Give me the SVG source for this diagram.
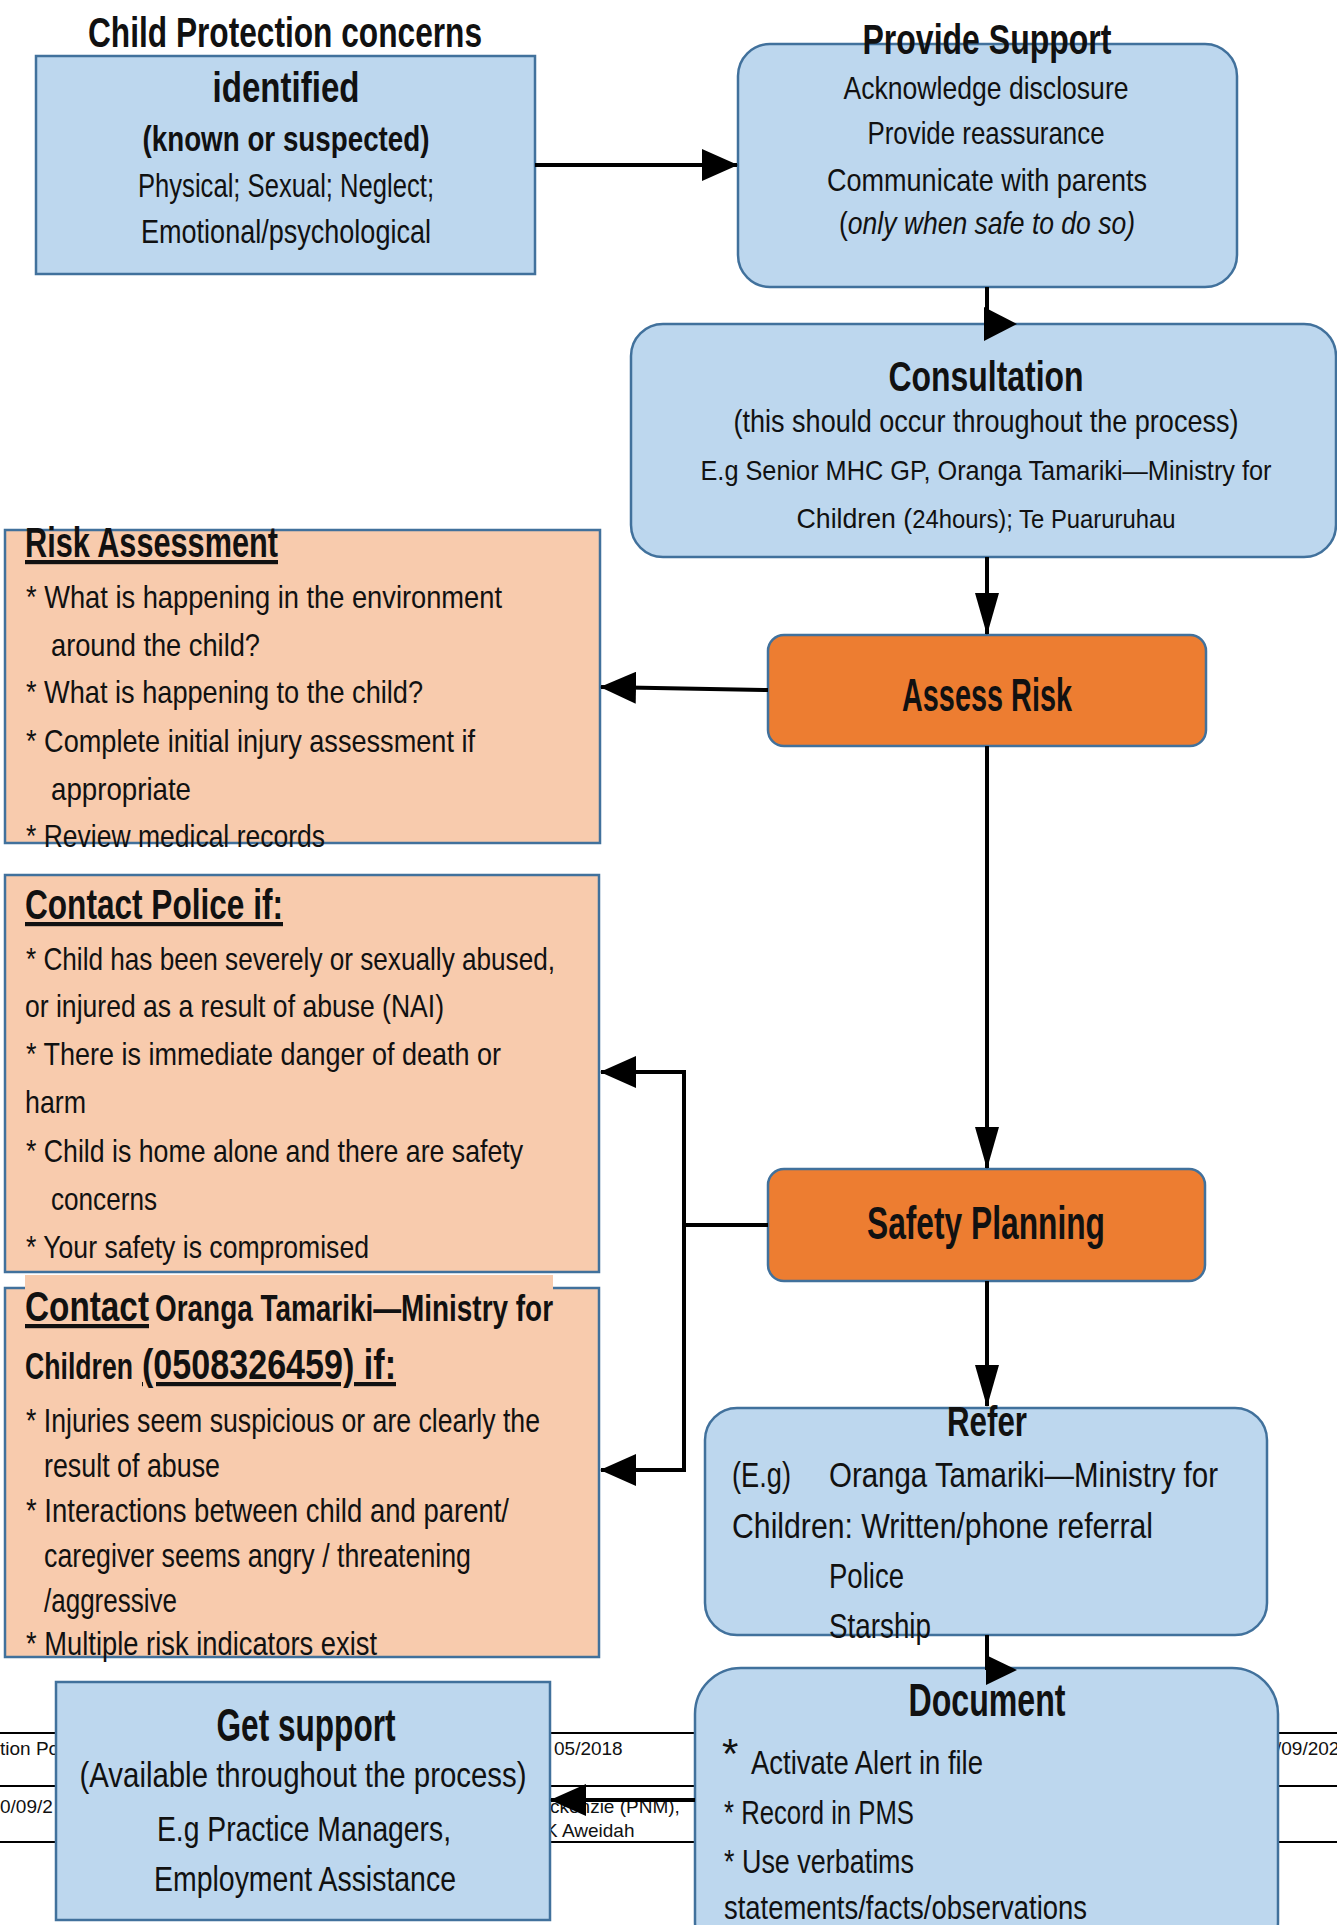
<svg xmlns="http://www.w3.org/2000/svg" width="1337" height="1925" viewBox="0 0 1337 1925">
<style>
.blue{fill:#BDD7EE;stroke:#41719C;stroke-width:2.5}
.peach{fill:#F8CBAD;stroke:#41719C;stroke-width:2.5}
.orange{fill:#ED7D31;stroke:#41719C;stroke-width:2.5}
text{font-family:"Liberation Sans",Arial,sans-serif;fill:#111;font-size:32px}
.b{font-weight:bold}
.c{text-anchor:middle}
.u{text-decoration:underline}
text.h{font-size:42px}
text.k{font-size:46px}
text.m{font-size:36px}
text.s{font-size:28px}
text.f{font-size:19px}
text.g{font-size:35px}
text.d{font-size:34px}
text.o{font-size:33px}
.con{stroke:#000;stroke-width:4;fill:none}
.foot{stroke:#000;stroke-width:2}
</style>
<defs>
<marker id="ah" markerUnits="userSpaceOnUse" markerWidth="36" markerHeight="32" refX="35" refY="16" orient="auto"><path d="M0,0 L36,16 L0,32 z" fill="#000"/></marker>
<marker id="av" markerUnits="userSpaceOnUse" markerWidth="42" markerHeight="24" refX="41" refY="12" orient="auto"><path d="M0,0 L42,12 L0,24 z" fill="#000"/></marker>
</defs>
<rect width="1337" height="1925" fill="#fff"/>
<g id="footer">
<line class="foot" x1="0" y1="1733" x2="1337" y2="1733"/>
<line class="foot" x1="0" y1="1786" x2="1337" y2="1786" stroke-width="3"/>
<line class="foot" x1="0" y1="1842" x2="1337" y2="1842"/>
<text class="f" x="0" y="1755">tion Po</text>
<text class="f" x="554" y="1755">05/2018</text>
<text class="f" x="0" y="1813">0/09/2</text>
<text class="f" x="550" y="1813">ckenzie (PNM),</text>
<text class="f" x="545" y="1837">K Aweidah</text>
<text class="f" x="1276" y="1755">/09/202</text>
</g>
<g id="n-identified">
<rect class="blue" x="36" y="56" width="499" height="218"/>
<text class="b h c" x="285" y="47" textLength="394" lengthAdjust="spacingAndGlyphs">Child Protection concerns</text>
<text class="b h c" x="286" y="102" textLength="147" lengthAdjust="spacingAndGlyphs">identified</text>
<text class="b g c" x="286" y="151" textLength="287" lengthAdjust="spacingAndGlyphs">(known or suspected)</text>
<text class="o c" x="286" y="197" textLength="296" lengthAdjust="spacingAndGlyphs">Physical; Sexual; Neglect;</text>
<text class="o c" x="286" y="243" textLength="290" lengthAdjust="spacingAndGlyphs">Emotional/psychological</text>
</g>
<g id="n-support">
<rect class="blue" x="738" y="44" width="499" height="243" rx="32"/>
<text class="b h c" x="987" y="54" textLength="249" lengthAdjust="spacingAndGlyphs">Provide Support</text>
<text class="c" x="986" y="99" textLength="285" lengthAdjust="spacingAndGlyphs">Acknowledge disclosure</text>
<text class="c" x="986" y="144" textLength="237" lengthAdjust="spacingAndGlyphs">Provide reassurance</text>
<text class="c" x="987" y="191" textLength="320" lengthAdjust="spacingAndGlyphs">Communicate with parents</text>
<text class="c" x="987" y="234" textLength="296" lengthAdjust="spacingAndGlyphs">(<tspan font-style="italic">only when safe to do so)</tspan></text>
</g>
<g id="n-consultation">
<rect class="blue" x="631" y="324" width="705" height="233" rx="32"/>
<text class="b h c" x="986" y="391" textLength="195" lengthAdjust="spacingAndGlyphs">Consultation</text>
<text class="c" x="986" y="432" textLength="505" lengthAdjust="spacingAndGlyphs">(this should occur throughout the process)</text>
<text class="s c" x="986" y="480" textLength="571" lengthAdjust="spacingAndGlyphs">E.g Senior MHC GP, Oranga Tamariki—Ministry for</text>
<text class="s c" x="986" y="528" textLength="379" lengthAdjust="spacingAndGlyphs">Children (<tspan style="font-size:25px">24hours); Te Puaruruhau</tspan></text>
</g>
<g id="n-assess">
<rect class="orange" x="768" y="635" width="438" height="111" rx="16"/>
<text class="b k c" x="987" y="711" textLength="170" lengthAdjust="spacingAndGlyphs">Assess Risk</text>
</g>
<g id="n-safety">
<rect class="orange" x="768" y="1169" width="437" height="112" rx="16"/>
<text class="b k c" x="986" y="1239" textLength="238" lengthAdjust="spacingAndGlyphs">Safety Planning</text>
</g>
<g id="n-risk">
<rect class="peach" x="5" y="530" width="595" height="313"/>
<text class="b h u" x="25" y="557" textLength="253" lengthAdjust="spacingAndGlyphs">Risk Assessment</text>
<text x="26" y="608" textLength="476" lengthAdjust="spacingAndGlyphs">* What is happening in the environment</text>
<text x="51" y="656" textLength="209" lengthAdjust="spacingAndGlyphs">around the child?</text>
<text x="26" y="703" textLength="397" lengthAdjust="spacingAndGlyphs">* What is happening to the child?</text>
<text x="26" y="752" textLength="449" lengthAdjust="spacingAndGlyphs">* Complete initial injury assessment if</text>
<text x="51" y="800" textLength="140" lengthAdjust="spacingAndGlyphs">appropriate</text>
<text x="26" y="847" textLength="299" lengthAdjust="spacingAndGlyphs">* Review medical records</text>
</g>
<g id="n-police">
<rect class="peach" x="5" y="875" width="594" height="397"/>
<text class="b h u" x="25" y="919" textLength="258" lengthAdjust="spacingAndGlyphs">Contact Police if:</text>
<text x="26" y="970" textLength="529" lengthAdjust="spacingAndGlyphs">* Child has been severely or sexually abused,</text>
<text x="25" y="1017" textLength="419" lengthAdjust="spacingAndGlyphs">or injured as a result of abuse (NAI)</text>
<text x="26" y="1065" textLength="475" lengthAdjust="spacingAndGlyphs">* There is immediate danger of death or</text>
<text x="25" y="1113" textLength="61" lengthAdjust="spacingAndGlyphs">harm</text>
<text x="26" y="1162" textLength="497" lengthAdjust="spacingAndGlyphs">* Child is home alone and there are safety</text>
<text x="51" y="1210" textLength="106" lengthAdjust="spacingAndGlyphs">concerns</text>
<text x="26" y="1258" textLength="343" lengthAdjust="spacingAndGlyphs">* Your safety is compromised</text>
</g>
<g id="n-oranga">
<rect class="peach" x="5" y="1288" width="594" height="369"/>
<rect x="25" y="1275" width="528" height="58" fill="#F8CBAD"/>
<text class="b h u" x="25" y="1321" textLength="124" lengthAdjust="spacingAndGlyphs">Contact</text>
<text class="b m" x="155" y="1321" textLength="398" lengthAdjust="spacingAndGlyphs">Oranga Tamariki—Ministry for</text>
<text class="b m" x="25" y="1379" textLength="108" lengthAdjust="spacingAndGlyphs">Children</text>
<text class="b h u" x="142" y="1379" textLength="254" lengthAdjust="spacingAndGlyphs">(0508326459) if:</text>
<text class="o" x="26" y="1432" textLength="514" lengthAdjust="spacingAndGlyphs">* Injuries seem suspicious or are clearly the</text>
<text class="o" x="44" y="1477" textLength="176" lengthAdjust="spacingAndGlyphs">result of abuse</text>
<text class="o" x="26" y="1522" textLength="483" lengthAdjust="spacingAndGlyphs">* Interactions between child and parent/</text>
<text class="o" x="44" y="1567" textLength="427" lengthAdjust="spacingAndGlyphs">caregiver seems angry / threatening</text>
<text class="o" x="44" y="1612" textLength="133" lengthAdjust="spacingAndGlyphs">/aggressive</text>
<text class="o" x="26" y="1655" textLength="351" lengthAdjust="spacingAndGlyphs">* Multiple risk indicators exist</text>
</g>
<g id="n-refer">
<rect class="blue" x="705" y="1408" width="562" height="227" rx="32"/>
<text class="b h c" x="987" y="1436" textLength="80" lengthAdjust="spacingAndGlyphs">Refer</text>
<text class="g" x="732" y="1487" textLength="59" lengthAdjust="spacingAndGlyphs">(E.g)</text>
<text class="g" x="829" y="1487" textLength="389" lengthAdjust="spacingAndGlyphs">Oranga Tamariki—Ministry for</text>
<text class="g" x="732" y="1538" textLength="421" lengthAdjust="spacingAndGlyphs">Children: Written/phone referral</text>
<text class="g" x="829" y="1588" textLength="75" lengthAdjust="spacingAndGlyphs">Police</text>
<text class="g" x="829" y="1638" textLength="102" lengthAdjust="spacingAndGlyphs">Starship</text>
</g>
<g id="n-document">
<rect class="blue" x="695" y="1668" width="583" height="300" rx="46"/>
<text class="b k c" x="987" y="1716" textLength="157" lengthAdjust="spacingAndGlyphs">Document</text>
<text class="h" x="722" y="1768">*</text>
<text class="d" x="751" y="1774" textLength="232" lengthAdjust="spacingAndGlyphs">Activate Alert in file</text>
<text class="d" x="724" y="1824" textLength="190" lengthAdjust="spacingAndGlyphs">* Record in PMS</text>
<text class="d" x="724" y="1873" textLength="190" lengthAdjust="spacingAndGlyphs">* Use verbatims</text>
<text class="d" x="724" y="1919" textLength="363" lengthAdjust="spacingAndGlyphs">statements/facts/observations</text>
</g>
<g id="n-getsupport">
<rect class="blue" x="56" y="1682" width="494" height="238"/>
<text class="b k c" x="306" y="1741" textLength="179" lengthAdjust="spacingAndGlyphs">Get support</text>
<text class="g c" x="303" y="1787" textLength="447" lengthAdjust="spacingAndGlyphs">(Available throughout the process)</text>
<text class="g c" x="304" y="1841" textLength="294" lengthAdjust="spacingAndGlyphs">E.g Practice Managers,</text>
<text class="g c" x="305" y="1891" textLength="302" lengthAdjust="spacingAndGlyphs">Employment Assistance</text>
</g>
<g id="connectors">
<line class="con" x1="535" y1="165" x2="737" y2="165" stroke-width="5" marker-end="url(#ah)"/>
<line class="con" x1="987" y1="287" x2="987" y2="324"/>
<polygon points="984,307 1017,324 984,341" fill="#000"/>
<line class="con" x1="987" y1="557" x2="987" y2="634" marker-end="url(#av)"/>
<line class="con" x1="768" y1="690" x2="601" y2="687" marker-end="url(#ah)"/>
<line class="con" x1="987" y1="746" x2="987" y2="1168" marker-end="url(#av)"/>
<path class="con" d="M768,1225 H684"/>
<path class="con" d="M684,1225 V1072 H601" marker-end="url(#ah)"/>
<path class="con" d="M684,1225 V1470 H601" marker-end="url(#ah)"/>
<line class="con" x1="987" y1="1281" x2="987" y2="1406" marker-end="url(#av)"/>
<line class="con" x1="987" y1="1635" x2="987" y2="1670"/>
<polygon points="986,1655 1017,1670 986,1685" fill="#000"/>
<line class="con" x1="695" y1="1800" x2="551" y2="1800" stroke-width="6" marker-end="url(#ah)"/>
</g>
</svg>
